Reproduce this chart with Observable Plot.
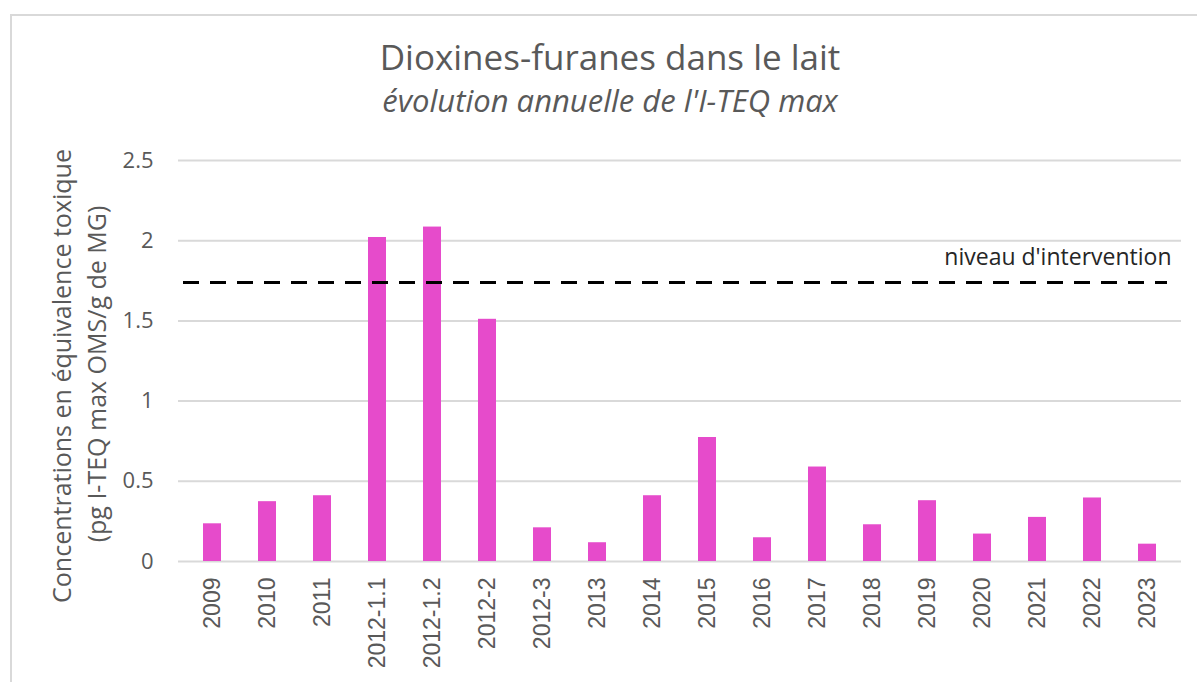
<!DOCTYPE html>
<html>
<head>
<meta charset="utf-8">
<script src="https://cdn.jsdelivr.net/npm/d3@7"></script>
<script src="https://cdn.jsdelivr.net/npm/@observablehq/plot@0.6"></script>
<style>
  html, body { margin: 0; padding: 0; background: #fff; }
  body { width: 1197px; height: 682px; position: relative; overflow: hidden; font-family: "Open Sans", sans-serif; }
  #frame { position: absolute; left: 10px; top: 14px; width: 1300px; height: 800px; border: 2px solid #d9d9d9; box-sizing: border-box; }
  #chart { position: absolute; left: 0; top: 0; }
  .ttl { position: absolute; left: 0; width: 1220px; text-align: center; color: #595959; line-height: 1; white-space: pre; }
  #title { top: 39px; font-size: 35px; }
  #subtitle { top: 85px; font-size: 31px; font-style: italic; }
</style>
</head>
<body>
<div id="frame"></div>
<div id="chart"></div>
<div id="title" class="ttl">Dioxines-furanes dans le lait</div>
<div id="subtitle" class="ttl">évolution annuelle de l'I-TEQ max</div>
<script>
const categories = ["2009","2010","2011","2012-1.1","2012-1.2","2012-2","2012-3","2013","2014","2015","2016","2017","2018","2019","2020","2021","2022","2023"];
const values = [0.235,0.373,0.41,2.02,2.085,1.51,0.21,0.117,0.41,0.773,0.148,0.589,0.229,0.379,0.171,0.275,0.396,0.108];
const interventionLevel = 1.74;
const interventionLabel = "niveau d'intervention";
const yTicks = [0, 0.5, 1, 1.5, 2, 2.5];
const yTitleLine1 = "Concentrations en équivalence toxique";
const yTitleLine2 = "(pg I-TEQ max OMS/g de MG)";

const data = categories.map((c, i) => ({cat: c, value: values[i]}));

const chart = Plot.plot({
  width: 1197,
  height: 682,
  marginLeft: 178,
  marginRight: 16,
  marginTop: 160,
  marginBottom: 121,
  style: {fontFamily: "'Open Sans', sans-serif", color: "#595959", background: "transparent", overflow: "visible"},
  x: {type: "band", domain: categories, paddingInner: 0.68, paddingOuter: 0.34},
  y: {domain: [0, 2.5]},
  marks: [
    Plot.gridY(yTicks, {stroke: "#d9d9d9", strokeOpacity: 1, strokeWidth: 2}),
    Plot.barY(data, {x: "cat", y: "value", fill: "#E64BCB"}),
    Plot.ruleY([interventionLevel], {stroke: "#000", strokeWidth: 3, strokeDasharray: "16,11", insetLeft: 5, insetRight: 14}),
    Plot.text([interventionLabel], {y: [interventionLevel], text: d => d, frameAnchor: "right", textAnchor: "end", dx: -10, dy: -25, fontSize: 23, fill: "#262626", fontFamily: "'Open Sans', sans-serif"}),
    Plot.axisY(yTicks, {tickSize: 0, tickPadding: 25, fontSize: 22, label: null, tickFormat: d => String(d)}),
    Plot.axisX({tickRotate: -90, tickSize: 0, tickPadding: 16, fontSize: 23, fontFamily: "'Liberation Sans', Arial, sans-serif", label: null}),
    Plot.text([yTitleLine1], {text: d => d, frameAnchor: "left", textAnchor: "middle", rotate: -90, dx: -116, dy: 15, fontSize: 25, fill: "#595959"}),
    Plot.text([yTitleLine2], {text: d => d, frameAnchor: "left", textAnchor: "middle", rotate: -90, dx: -81, dy: 13, fontSize: 25, fill: "#595959"})
  ]
});
document.getElementById("chart").appendChild(chart);
</script>
</body>
</html>
